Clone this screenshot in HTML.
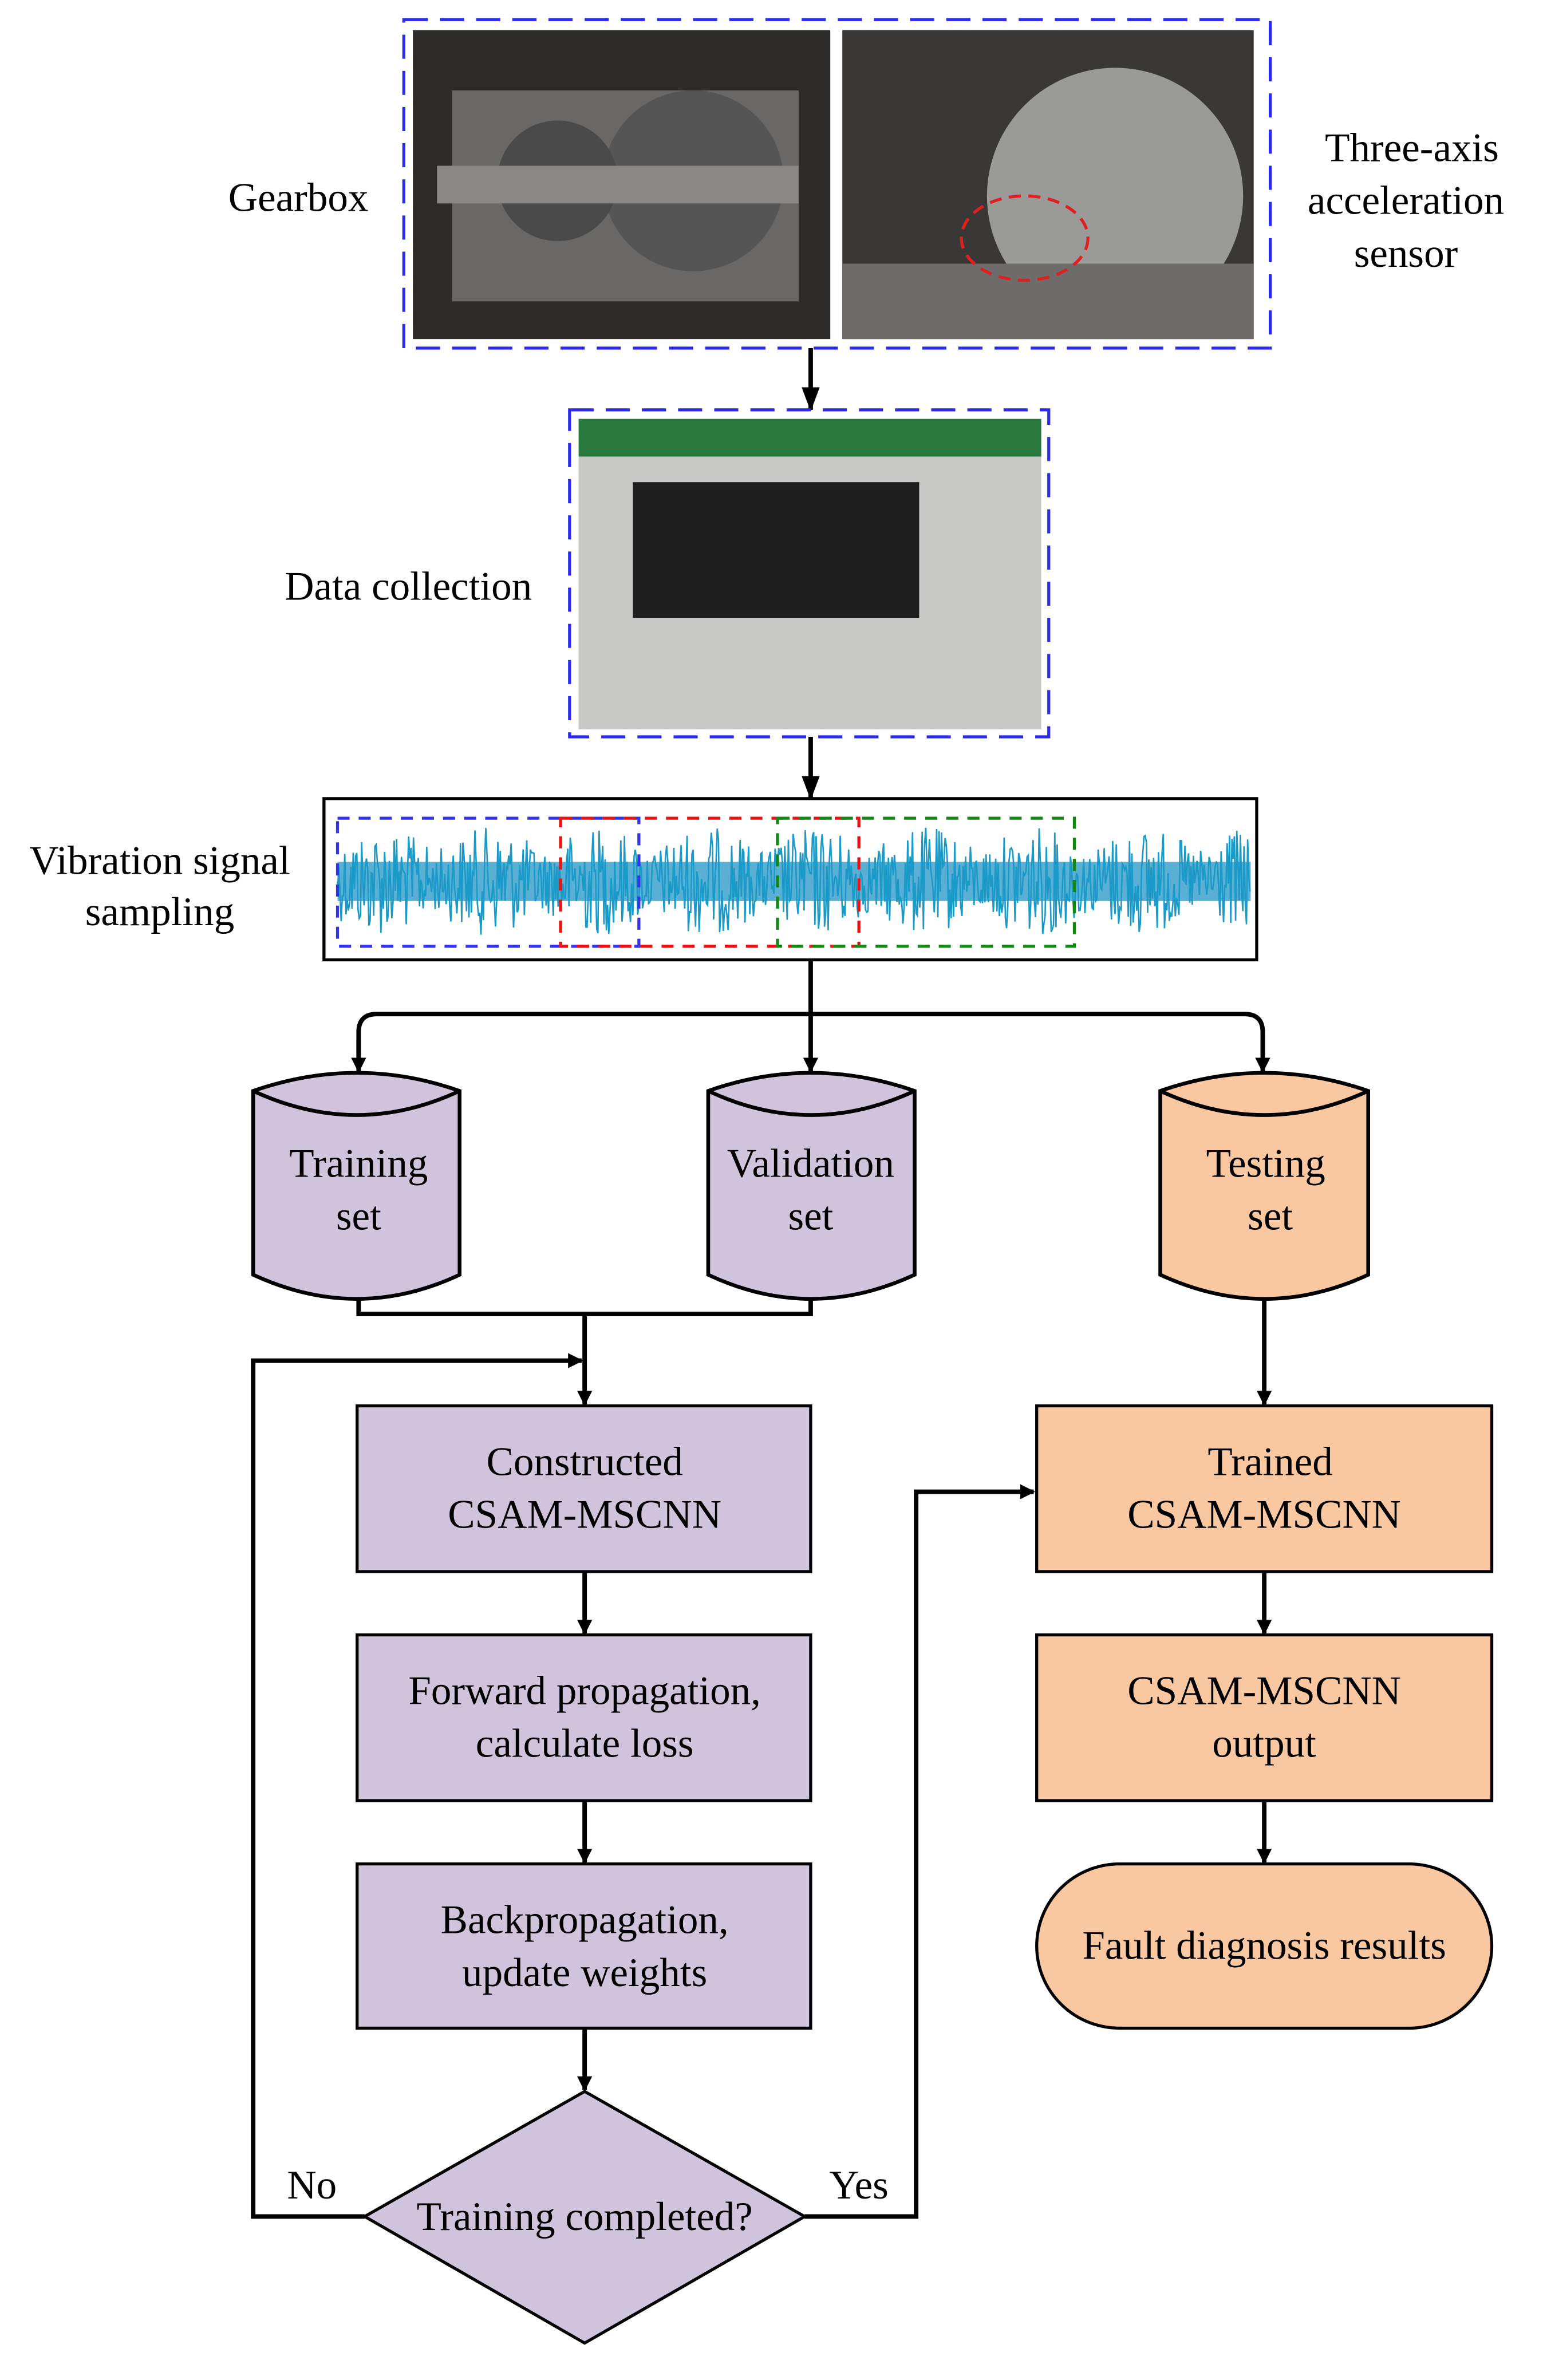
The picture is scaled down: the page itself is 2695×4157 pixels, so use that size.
<!DOCTYPE html>
<html><head><meta charset="utf-8"><style>
html,body{margin:0;padding:0;background:#fff;}
svg{display:block;}
text{font-family:"Liberation Serif",serif;font-size:27px;fill:#000;text-anchor:middle;}
</style></head><body>
<svg id="s" width="2695" height="4157" viewBox="0 0 1024 1579.5" preserveAspectRatio="none" xmlns="http://www.w3.org/2000/svg">
<defs>
<marker id="a" markerWidth="10" markerHeight="10" refX="9" refY="5" orient="auto" markerUnits="userSpaceOnUse">
<path d="M0,0 L10,5 L0,10 z" fill="#000"/></marker>
<marker id="b" markerWidth="16" markerHeight="12" refX="15" refY="6" orient="auto" markerUnits="userSpaceOnUse">
<path d="M0,0 L16,6 L0,12 z" fill="#000"/></marker>
</defs>
<!-- top photos -->
<rect x="274" y="20" width="277" height="205" fill="#2e2c2a"/>
<rect x="300" y="60" width="230" height="140" fill="#6a6866"/>
<circle cx="460" cy="120" r="60" fill="#555"/>
<circle cx="370" cy="120" r="40" fill="#4a4a4a"/>
<rect x="290" y="110" width="240" height="25" fill="#8a8886"/>
<rect x="559" y="20" width="273" height="205" fill="#3a3836"/>
<circle cx="740" cy="130" r="85" fill="#9a9a98"/>
<rect x="559" y="175" width="273" height="50" fill="#6e6c6a"/>
<ellipse cx="680" cy="158" rx="42" ry="28" fill="none" stroke="#e02020" stroke-width="2" stroke-dasharray="8,5"/>
<rect x="268" y="13" width="575" height="218" fill="none" stroke="#2b2bef" stroke-width="2" stroke-dasharray="16,8"/>
<text x="198" y="140">Gearbox</text>
<text x="937" y="107">Three-axis</text>
<text x="933" y="142">acceleration</text>
<text x="933" y="177">sensor</text>
<line x1="538" y1="231" x2="538" y2="272" stroke="#000" stroke-width="3" marker-end="url(#b)"/>
<!-- data collection -->
<rect x="384" y="278" width="307" height="206" fill="#c8c8c6"/>
<rect x="384" y="278" width="307" height="25" fill="#2a7a40"/>
<rect x="420" y="320" width="190" height="90" fill="#1e1e1e"/>
<rect x="378" y="272" width="318" height="217" fill="none" stroke="#2b2bef" stroke-width="2" stroke-dasharray="16,8"/>
<text x="271" y="398">Data collection</text>
<line x1="538" y1="489" x2="538" y2="530" stroke="#000" stroke-width="3" marker-end="url(#b)"/>
<!-- signal -->
<rect x="215" y="530" width="619" height="107" fill="#fff" stroke="#000" stroke-width="2"/>
<rect x="224" y="572" width="606" height="26" fill="#5ab0d4"/>
<path id="sig" d="" fill="none" stroke="#1a9ac8" stroke-width="1"/>
<rect x="224" y="543" width="200" height="85" fill="none" stroke="#3333ee" stroke-width="2" stroke-dasharray="8,6"/>
<rect x="372" y="543" width="198" height="85" fill="none" stroke="#ee1111" stroke-width="2" stroke-dasharray="8,6"/>
<rect x="516" y="543" width="197" height="85" fill="none" stroke="#118811" stroke-width="2" stroke-dasharray="8,6"/>
<text x="106" y="580">Vibration signal</text>
<text x="106" y="614">sampling</text>
<!-- distribution -->
<path d="M538,637 V673" stroke="#000" stroke-width="3" fill="none"/>
<path d="M238,700 V685 Q238,673 250,673 H826 Q838,673 838,685 V700" stroke="#000" stroke-width="3" fill="none"/>
<line x1="238" y1="690" x2="238" y2="711" stroke="#000" stroke-width="3" marker-end="url(#a)"/>
<line x1="538" y1="673" x2="538" y2="711" stroke="#000" stroke-width="3" marker-end="url(#a)"/>
<line x1="838" y1="690" x2="838" y2="711" stroke="#000" stroke-width="3" marker-end="url(#a)"/>
<!-- cylinders -->
<g stroke="#000" stroke-width="2.5">
<path d="M168,724 Q237,700 305,724 V846 Q237,878 168,846 Z" fill="#d0c3dc"/>
<path d="M168,724 Q237,756 305,724" fill="none"/>
<path d="M470,724 Q538,700 607,724 V846 Q538,878 470,846 Z" fill="#d0c3dc"/>
<path d="M470,724 Q538,756 607,724" fill="none"/>
<path d="M770,724 Q839,700 908,724 V846 Q839,878 770,846 Z" fill="#fac8a0"/>
<path d="M770,724 Q839,756 908,724" fill="none"/>
</g>
<text x="238" y="781">Training</text><text x="238" y="816">set</text>
<text x="538" y="781">Validation</text><text x="538" y="816">set</text>
<text x="840" y="781">Testing</text><text x="843" y="816">set</text>
<!-- merge -->
<path d="M238,862 V872 H538 V862" stroke="#000" stroke-width="3" fill="none"/>
<line x1="388" y1="872" x2="388" y2="932" stroke="#000" stroke-width="3" marker-end="url(#a)"/>
<path d="M242,1471 H168 V903 H386" stroke="#000" stroke-width="3" fill="none" marker-end="url(#a)"/>
<!-- left boxes -->
<g stroke="#000" stroke-width="2" fill="#d0c3dc">
<rect x="237" y="933" width="301" height="110"/>
<rect x="237" y="1085" width="301" height="110"/>
<rect x="237" y="1237" width="301" height="109"/>
<path d="M388,1388 L534,1471 L388,1555 L242,1471 Z"/>
</g>
<text x="388" y="979">Constructed</text><text x="388" y="1014">CSAM-MSCNN</text>
<text x="388" y="1131">Forward propagation,</text><text x="388" y="1166">calculate  loss</text>
<text x="388" y="1283">Backpropagation,</text><text x="388" y="1318">update weights</text>
<text x="388" y="1480">Training completed?</text>
<text x="207" y="1459">No</text><text x="570" y="1459">Yes</text>
<g stroke="#000" stroke-width="3" fill="none">
<line x1="388" y1="1043" x2="388" y2="1084" marker-end="url(#a)"/>
<line x1="388" y1="1195" x2="388" y2="1236" marker-end="url(#a)"/>
<line x1="388" y1="1346" x2="388" y2="1387" marker-end="url(#a)"/>
<path d="M534,1471 H608 V990 H686" marker-end="url(#a)"/>
<line x1="839" y1="862" x2="839" y2="932" marker-end="url(#a)"/>
<line x1="839" y1="1043" x2="839" y2="1084" marker-end="url(#a)"/>
<line x1="839" y1="1195" x2="839" y2="1236" marker-end="url(#a)"/>
</g>
<!-- right boxes -->
<g stroke="#000" stroke-width="2" fill="#fac8a0">
<rect x="688" y="933" width="302" height="110"/>
<rect x="688" y="1085" width="302" height="110"/>
<rect x="688" y="1237" width="302" height="109" rx="55" ry="55"/>
</g>
<text x="843" y="979">Trained</text><text x="839" y="1014">CSAM-MSCNN</text>
<text x="839" y="1131">CSAM-MSCNN</text><text x="839" y="1166">output</text>
<text x="839" y="1300">Fault diagnosis results</text>
</svg>
<script>
(function(){var s=12345;function r(){s=(s*1103515245+12345)%2147483648;return s/2147483648;}
var d="M224,585";for(var x=224;x<=830;x+=0.8){var env=20+16*Math.abs(Math.sin(x/23));d+=" L"+x.toFixed(1)+","+(585+(r()*2-1)*env).toFixed(1);}
document.getElementById("sig").setAttribute("d",d);})();
</script>
</body></html>
